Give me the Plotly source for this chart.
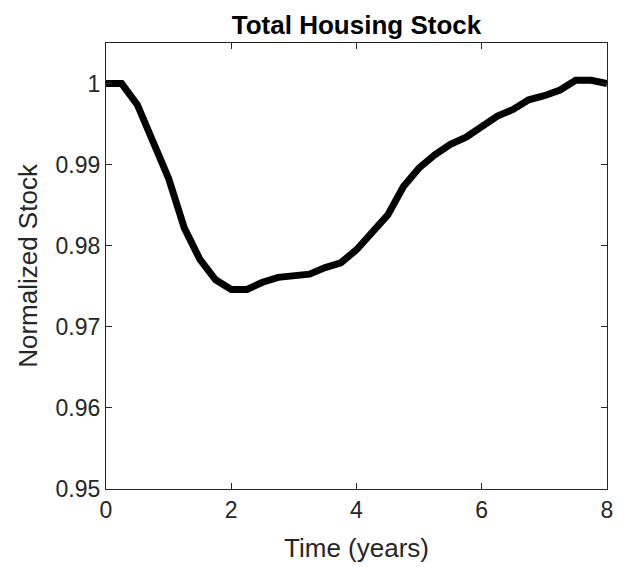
import plotly.graph_objects as go

time_years = [0, 0.25, 0.5, 0.75, 1.0, 1.25, 1.5, 1.75, 2.0, 2.25, 2.5, 2.75, 3.0,
              3.25, 3.5, 3.75, 4.0, 4.25, 4.5, 4.75, 5.0, 5.25, 5.5, 5.75, 6.0,
              6.25, 6.5, 6.75, 7.0, 7.25, 7.5, 7.75, 8.0]
normalized_stock = [1.0, 1.0, 0.9974, 0.9931, 0.9883, 0.9822, 0.9783, 0.9758, 0.9746,
                    0.9746, 0.9755, 0.9761, 0.9762, 0.9765, 0.9773, 0.9779, 0.9795,
                    0.9816, 0.9838, 0.9873, 0.9896, 0.9912, 0.9925, 0.9934, 0.9947,
                    0.9960, 0.9968, 0.9980, 0.9985, 0.9992, 1.0004, 1.0004, 1.0000]

x_ticks = [0, 2, 4, 6, 8]
y_ticks = [0.95, 0.96, 0.97, 0.98, 0.99, 1.0]
y_tick_labels = ["0.95", "0.96", "0.97", "0.98", "0.99", "1"]

W, H = 616, 559
fig = go.Figure()
fig.add_trace(go.Scatter(
    x=time_years, y=normalized_stock, mode="lines",
    line=dict(color="black", width=7),
    showlegend=False, cliponaxis=True,
))

axis_color = "#262626"
fig.update_layout(
    width=W, height=H,
    margin=dict(l=98, r=17, t=35, b=78),
    paper_bgcolor="white", plot_bgcolor="white",
    font=dict(family="Liberation Sans, Arial, sans-serif", color=axis_color, size=23),
    title=dict(text="<b>Total Housing Stock</b>", x=348.5 / W, xanchor="center",
               y=1 - 17 / H, yanchor="middle", yref="container",
               font=dict(size=26, color="black")),
    xaxis=dict(range=[0, 8], tickvals=x_ticks, ticks="inside", ticklen=6,
               tickcolor=axis_color, showline=True, linecolor=axis_color, linewidth=1.3,
               mirror="ticks", showgrid=False, zeroline=False, automargin=False,
               title=dict(text="Time (years)", font=dict(size=26), standoff=17),
               tickfont=dict(size=23, color=axis_color)),
    yaxis=dict(range=[0.95, 1.005], tickvals=y_ticks, ticktext=y_tick_labels,
               ticks="inside", ticklen=6, tickcolor=axis_color, showline=True,
               linecolor=axis_color, linewidth=1.3, mirror="ticks", showgrid=False,
               zeroline=False, automargin=False,
               title=dict(text="Normalized Stock", font=dict(size=26), standoff=10),
               tickfont=dict(size=23, color=axis_color)),
)

fig.write_html("out.html")
